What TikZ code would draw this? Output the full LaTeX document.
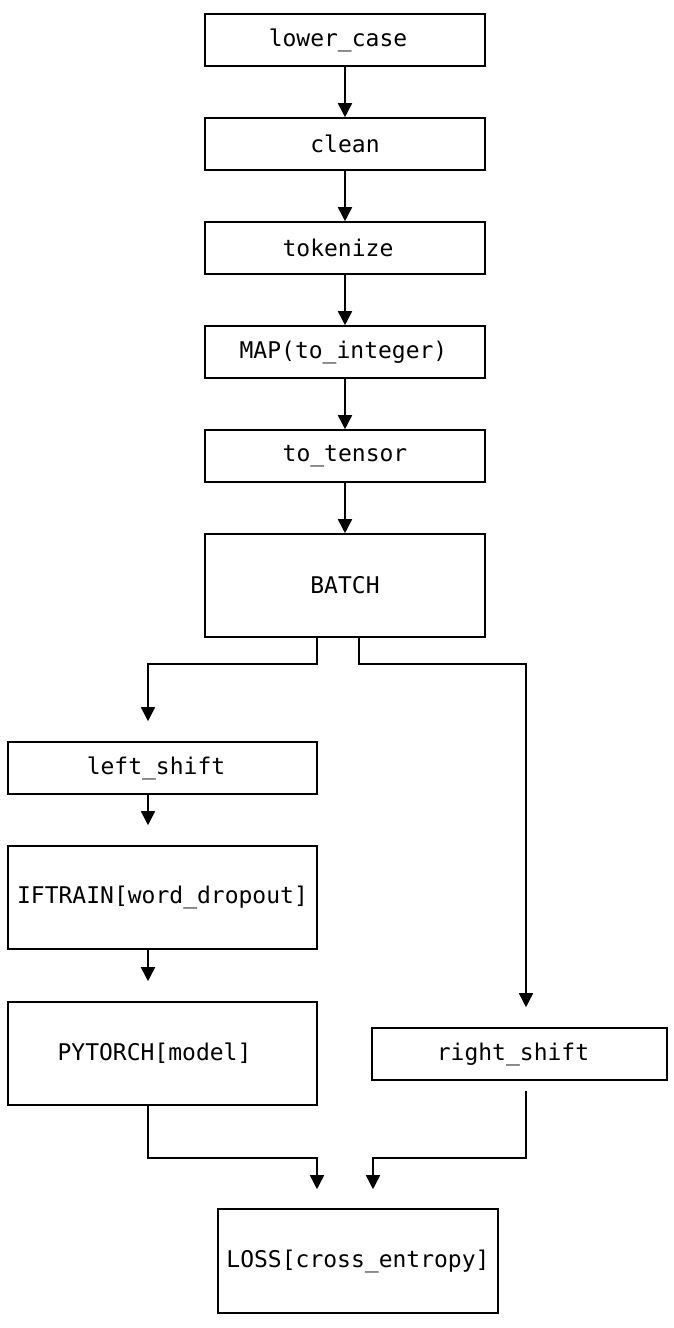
\documentclass[tikz,border=0pt]{standalone}
\usepackage{fontspec}
\setmonofont{DejaVu Sans Mono}
\usetikzlibrary{calc,arrows.meta}

\tikzset{
	stage/.style={draw, line width=1.6pt, minimum width=280pt, minimum height=52pt, inner sep=0pt,
		font=\ttfamily\fontsize{23}{27}\selectfont},
	nudge/.style={execute at begin node={\kern#1}},
	flow/.style={line width=1.6pt, -{Triangle[width=14pt,length=14pt]}},
}

\begin{document}
\begin{tikzpicture}[x=1pt,y=-1pt]
		%%%%% START %%%%%
		\useasboundingbox (0,0) rectangle (674,1328);
		
		% main chain
		\node[stage, nudge=-14pt] (lower) at (345,40) {lower\_case};
		\node[stage] (clean) at (345,144) {clean};
		\node[stage, nudge=-14pt] (token) at (345,248) {tokenize};
		\node[stage, nudge=-3pt] (map) at (345,352) {MAP(to\_integer)};
		\node[stage] (tensor) at (345,456) {to\_tensor};
		\node[stage, minimum height=103pt] (batch) at (345,585.5) {BATCH};
		
		% left branch
		\node[stage, nudge=-13pt, minimum width=309pt] (lshift) at (162.5,768) {left\_shift};
		\node[stage, minimum width=309pt, minimum height=103pt] (iftrain) at (162.5,897.5) {IFTRAIN[word\_dropout]};
		\node[stage, nudge=-16pt, minimum width=309pt, minimum height=103pt] (pytorch) at (162.5,1053.5) {PYTORCH[model]};
		
		% right branch
		\node[stage, nudge=-13pt, minimum width=295pt] (rshift) at (519.5,1054) {right\_shift};
		
		\node[stage, minimum height=104pt] (loss) at (358,1261) {LOSS[cross\_entropy]};
		
		\draw[flow] (lower) -- (clean);
		\draw[flow] (clean) -- (token);
		\draw[flow] (token) -- (map);
		\draw[flow] (map) -- (tensor);
		\draw[flow] (tensor) -- (batch);
		
		\draw[flow] ($(batch.south)+(-28,0)$) -- ++(0,26) -| ($(lshift.north)+(-14.5,-20)$);
		\draw[flow] ($(batch.south)+(14,0)$) -- ++(0,26) -| ($(rshift.north)+(6.5,-20)$);
		
		\draw[flow] ($(lshift.south)+(-14.5,0)$) -- ($(iftrain.north)+(-14.5,-20)$);
		\draw[flow] ($(iftrain.south)+(-14.5,0)$) -- ($(pytorch.north)+(-14.5,-20)$);
		
		\draw[flow] ($(pytorch.south)+(-14.5,0)$) -- ++(0,52) -| ($(loss.north)+(-41,-19)$);
		\draw[flow] ($(rshift.south)+(6.5,10)$) -- ++(0,67) -| ($(loss.north)+(15,-19)$);
		%%%%% END %%%%%
	\end{tikzpicture}
\end{document}
